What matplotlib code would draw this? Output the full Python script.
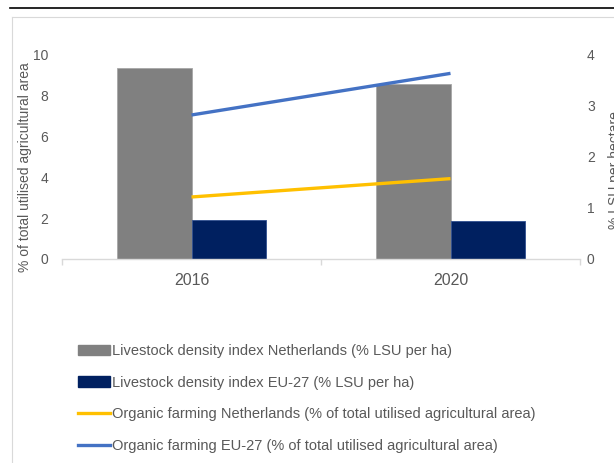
import numpy as np
import matplotlib.pyplot as plt
from matplotlib.lines import Line2D
from matplotlib.patches import Rectangle

# values
years = ["2016", "2020"]
lsu_netherlands = [3.75, 3.44]
lsu_eu27 = [0.76, 0.74]
organic_netherlands = [3.04, 3.94]
organic_eu27 = [7.06, 9.10]

labels = [
    "Livestock density index Netherlands (% LSU per ha)",
    "Livestock density index EU-27 (% LSU per ha)",
    "Organic farming Netherlands (% of total utilised agricultural area)",
    "Organic farming EU-27 (% of total utilised agricultural area)",
]

grey = "#808080"
navy = "#002060"
yellow = "#FFC000"
blue = "#4472C4"
text_col = "#595959"

plt.rcParams["font.family"] = ["Liberation Sans", "DejaVu Sans"]

fig = plt.figure(figsize=(6.14, 4.63), dpi=100)

# screenshot frame: black rule on top, light grey box below it
fig.add_artist(Line2D([10 / 614, 1], [1 - 8 / 463] * 2, color="black", lw=1.2))
fig.add_artist(Line2D([12 / 614, 1], [1 - 17 / 463] * 2, color="#d9d9d9", lw=0.8))
fig.add_artist(Line2D([12 / 614] * 2, [0, 1 - 17 / 463], color="#d9d9d9", lw=0.8))

ax = fig.add_axes([62 / 614, 1 - 259 / 463, 518 / 614, 204 / 463])
ax2 = ax.twinx()

x = np.arange(len(years))
w = 0.288
ax2.bar(x - w / 2, lsu_netherlands, w, color=grey, edgecolor="#a6a6a6", lw=0.6, zorder=1)
ax2.bar(x + w / 2, lsu_eu27, w, color=navy, edgecolor="#2f4f8f", lw=0.6, zorder=1)
ax2.set_ylim(0, 4)
ax2.set_yticks([0, 1, 2, 3, 4])

# lines on left axis, drawn above bars
ax.set_zorder(ax2.get_zorder() + 1)
ax.patch.set_visible(False)
ax.plot(x, organic_netherlands, color=yellow, lw=2.4, solid_capstyle="butt")
ax.plot(x, organic_eu27, color=blue, lw=2.4, solid_capstyle="butt")
ax.set_ylim(0, 10)
ax.set_yticks([0, 2, 4, 6, 8, 10])
ax.set_xlim(-0.5, 1.5)
ax.set_xticks(x)
ax.set_xticklabels(years)

for a in (ax, ax2):
    for s in a.spines.values():
        s.set_visible(False)
    a.tick_params(colors=text_col, labelsize=10, length=0)
ax.tick_params(axis="y", pad=10)
ax2.tick_params(axis="y", pad=5)
ax.tick_params(axis="x", labelsize=11.5, pad=10)

# x axis line with small ticks at category boundaries
ax.spines["bottom"].set_visible(True)
ax.spines["bottom"].set_color("#d9d9d9")
ax.spines["bottom"].set_linewidth(1.0)
ax.set_xticks([-0.5, 0.5, 1.5], minor=True)
ax.tick_params(axis="x", which="minor", length=4, color="#d9d9d9", width=1.0)

fig.text(25 / 614, 1 - 167.5 / 463, "% of total utilised agricultural area", rotation=90,
         ha="center", va="center", color=text_col, fontsize=10)
# clipped by the right edge, as in the reference
fig.text(615 / 614, 1 - 170 / 463, "% LSU per hectare", rotation=90, ha="center", va="center",
         color=text_col, fontsize=10)

# legend
handles = [
    Rectangle((0, 0), 1, 1, color=grey),
    Rectangle((0, 0), 1, 1, color=navy),
    Line2D([], [], color=yellow, lw=2.4),
    Line2D([], [], color=blue, lw=2.4),
]
leg = fig.legend(handles, labels, loc="upper left", bbox_to_anchor=(65 / 614, 1 - 331 / 463),
                 frameon=False, fontsize=10.5, labelcolor=text_col, handlelength=2.2,
                 handleheight=0.7, handletextpad=0.15, labelspacing=1.2)

fig.savefig("out.png", dpi=100)
